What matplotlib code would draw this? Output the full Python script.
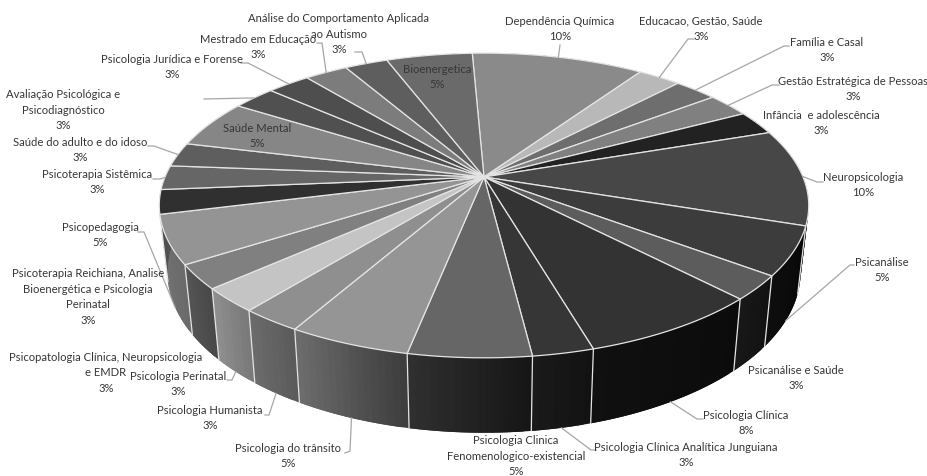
# 3D style pie of course areas, drawn in pixel coordinates of the figure

import numpy as np
from matplotlib import pyplot as plt

# --- Data (clockwise from the top)

areas = ['Dependência Química', 'Educacao, Gestão, Saúde', 'Família e Casal',
         'Gestão Estratégica de Pessoas', 'Infância  e adolescência', 'Neuropsicologia',
         'Psicanálise', 'Psicanálise e Saúde', 'Psicologia Clínica',
         'Psicologia Clínica Analítica Junguiana', 'Psicologia Clinica\nFenomenologico-existencial',
         'Psicologia do trânsito', 'Psicologia Humanista', 'Psicologia Perinatal',
         'Psicopatologia Clínica, Neuropsicologia\ne EMDR', 'Psicopedagogia',
         'Psicoterapia Reichiana, Analise\nBioenergética e Psicologia\nPerinatal',
         'Psicoterapia Sistêmica', 'Saúde do adulto e do idoso', 'Saúde Mental',
         'Avaliação Psicológica e\nPsicodiagnóstico', 'Psicologia Jurídica e Forense',
         'Mestrado em Educação', 'Análise do Comportamento Aplicada\nao Autismo', 'Bioenergetica']
counts = [4, 1, 1, 1, 1, 4, 2, 1, 3, 1, 2, 2, 1, 1, 1, 2, 1, 1, 1, 2, 1, 1, 1, 1, 2]

# --- Styles

top_grey = [0x8a, 0xb8, 0x6e, 0x80, 0x22, 0x47, 0x3c, 0x5c, 0x33, 0x36, 0x66, 0x95, 0x8f,
            0xc4, 0x80, 0x94, 0x30, 0x66, 0x5e, 0x86, 0x50, 0x4e, 0x7c, 0x5e, 0x6a]
rim_start = [0x10, 0x10, 0x10, 0x10, 0x10, 0x12, 0x08, 0x12, 0x0b, 0x12, 0x15, 0x3c, 0x5a,
             0x78, 0x48, 0x6a, 0x50, 0x50, 0x50, 0x50, 0x50, 0x50, 0x50, 0x50, 0x50]
rim_end = [0x10, 0x10, 0x10, 0x10, 0x10, 0x0a, 0x0e, 0x18, 0x10, 0x1a, 0x30, 0x6e, 0x6c,
           0x90, 0x55, 0x74, 0x50, 0x50, 0x50, 0x50, 0x50, 0x50, 0x50, 0x50, 0x50]

# label block centre (x, y) in pixels
label_pos = [(560, 29), (701, 29), (827, 50), (853, 89), (821, 123), (863, 185),
             (882, 270), (796, 378), (746, 423), (686, 455), (516, 456),
             (288, 456), (210, 418), (178, 384), (106, 373), (100, 235),
             (88, 297), (97, 182), (80, 150), (257, 136), (63, 110), (172, 67),
             (258, 47), (339, 34), (437, 77)]

# leader bend points, from the label towards the pie (None: no leader)
leaders = [[(560, 45)], [(694, 39), (688, 39)], [(789, 46), (784, 46)], [(779, 85), (772, 85)],
           None, [(823, 182), (817, 182)], [(854, 265), (850, 265)], None,
           [(703, 419), (697, 419)], [(596, 450), (591, 450)], None,
           [(345, 453), (350, 451)], [(265, 415), (269, 415)], [(227, 380), (232, 380)],
           None, [(138, 232), (144, 232)], None, [(153, 179), (160, 179)],
           [(148, 146), (154, 146)], None, [(204, 99)], [(241, 63), (248, 63)],
           [(317, 43), (322, 43)], [(355, 52), (362, 52)], None]

START_DEG = -2.5
CX, CY = 484, 177
A, B, K = 319, 147, 0.187
SEP = '#e4e4e4'


def top_xy(deg):
    '''
    Projects an angle on the pie circle to the outline of the top face.
    '''
    t = np.radians(deg)
    d = 1 + K*np.cos(t)
    return CX + A*np.sin(t)/d, CY - B*np.cos(t)/d


def bottom_xy(deg):
    '''
    Same point on the lower edge of the rim.
    '''
    x, y = top_xy(deg)
    return CX + (x - CX)*0.975, 242 + (y - CY)*1.055


def grey(v):
    v = int(round(v))
    return '#%02x%02x%02x' % (v, v, v)


def main():
    plt.rcParams['font.family'] = ['Lato', 'DejaVu Sans']

    fig = plt.figure(figsize=(9.28, 4.76), dpi=100)
    ax = fig.add_axes([0, 0, 1, 1])
    ax.set_xlim(0, 928)
    ax.set_ylim(476, 0)
    ax.axis('off')

    total = sum(counts)
    edges = START_DEG + np.cumsum([0] + counts)*360/total

    # rim first, split in thin strips for the shading; each strip runs on under the next
    for i in range(len(counts)):
        steps = np.linspace(edges[i], edges[i+1], counts[i]*8 + 1)
        for j in range(len(steps) - 1):
            f = (j + 0.5)/(len(steps) - 1)
            c = grey(rim_start[i] + (rim_end[i] - rim_start[i])*f)
            far = steps[min(j + 2, len(steps) - 1)]
            x0, y0 = top_xy(steps[j])
            x1, y1 = top_xy(far)
            x2, y2 = bottom_xy(far)
            x3, y3 = bottom_xy(steps[j])
            ax.fill([x0, x1, x2, x3], [y0, y1, y2, y3], color=c, lw=0, zorder=1)

    # separators on the visible part of the rim
    for deg in edges:
        if 100 < deg % 360 < 262:
            x0, y0 = top_xy(deg)
            x1, y1 = bottom_xy(deg)
            ax.plot([x0, x1], [y0, y1], color=SEP, lw=0.9, zorder=2)

    # top face
    for i in range(len(counts)):
        arc = np.linspace(edges[i], edges[i+1], counts[i]*12 + 1)
        xs, ys = top_xy(arc)
        ax.fill(np.r_[CX, xs], np.r_[CY, ys], facecolor=grey(top_grey[i]),
                edgecolor=SEP, lw=0.9, joinstyle='round', zorder=3)

    # leaders and labels
    for i, name in enumerate(areas):
        mid = (edges[i] + edges[i+1])/2
        if leaders[i] is not None:
            front = 100 < mid % 360 < 262
            end = bottom_xy(mid) if front else top_xy(mid)
            pts = leaders[i] + [end]
            ax.plot([p[0] for p in pts], [p[1] for p in pts], color='#a6a6a6', lw=0.9, zorder=4)
        pct = int(counts[i]*100/total + 0.5)
        ax.text(label_pos[i][0], label_pos[i][1], f'{name}\n{pct}%', ha='center', va='center',
                fontsize=8.1, color='#363636', linespacing=1.51, zorder=5)

    fig.savefig('out.png', dpi=100)


if __name__ == '__main__':
    main()
